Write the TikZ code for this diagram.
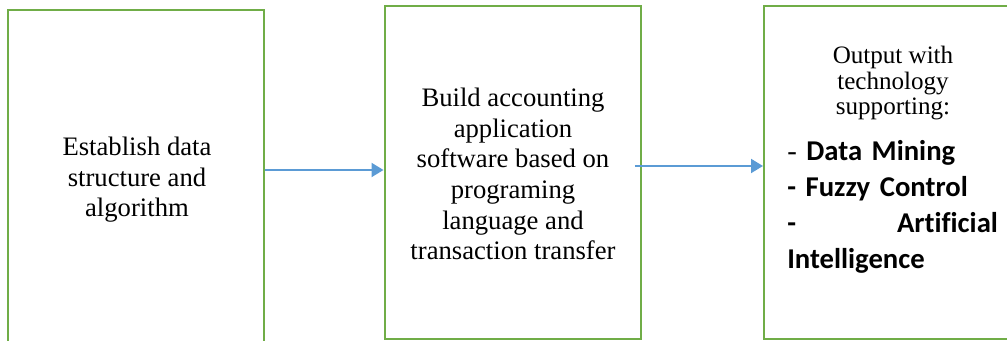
\documentclass[tikz,border=0pt]{standalone}
\usepackage{fontspec}
\setmainfont{Liberation Serif}
\newfontfamily\calibfont[Ligatures=NoCommon]{Carlito}
\usetikzlibrary{arrows.meta}
\definecolor{boxGreen}{RGB}{112,173,71}
\definecolor{flowBlue}{RGB}{91,155,213}

\begin{document}
\begin{tikzpicture}[
  x=0.75pt, y=-0.75pt,
  stepbox/.style={
    rectangle,
    draw=boxGreen,
    fill=white,
    inner sep=0pt,
    minimum width=192pt,
    line width=1.5pt,
  },
  steptext/.style={
    align=center,
    anchor=base,
    inner sep=0pt,
    font=\fontsize{20pt}{23pt}\selectfont,
  },
  flow/.style={flowBlue, line width=1.5pt, -{Triangle[length=9pt, width=10.5pt]}},
]
  \useasboundingbox (0,0) rectangle (1007,341);
  \clip (0,0) rectangle (1007,341);

  \node[stepbox, minimum height=258pt] (b1) at (135.5,182) {};
  \node[stepbox, minimum height=250pt] (b2) at (512.5,172.5) {};
  \node[stepbox, minimum height=250pt] (b3) at (892,172.5) {};

  % base anchor sits on the last line
  \node[steptext] (t1) at (137,217)
    {Establish data\\structure and\\algorithm};
  \node[steptext] (t2) at (513,260)
    {Build accounting\\application\\software based on\\programing\\language and\\transaction transfer};

  \node[steptext, font=\fontsize{18.8pt}{19.2pt}\selectfont] (t3) at (893,115)
    {Output with\\technology\\supporting:};
  \node[anchor=base west, inner sep=0pt, text width=158pt, align=left,
        font=\calibfont\bfseries\fontsize{21.5pt}{26.8pt}\selectfont] (l3) at (787,161)
    {{\rmfamily\mdseries -} Data Mining\\
     - Fuzzy Control\\
     \makebox[158pt][s]{-\hfill Artificial}\\
     Intelligence};

  \draw[flow] (b1.east |- 0,170) -- (b2.west |- 0,170);
  \draw[flow] ([xshift=-5pt]b2.east |- 0,166) -- (b3.west |- 0,166);

\end{tikzpicture}
\end{document}
